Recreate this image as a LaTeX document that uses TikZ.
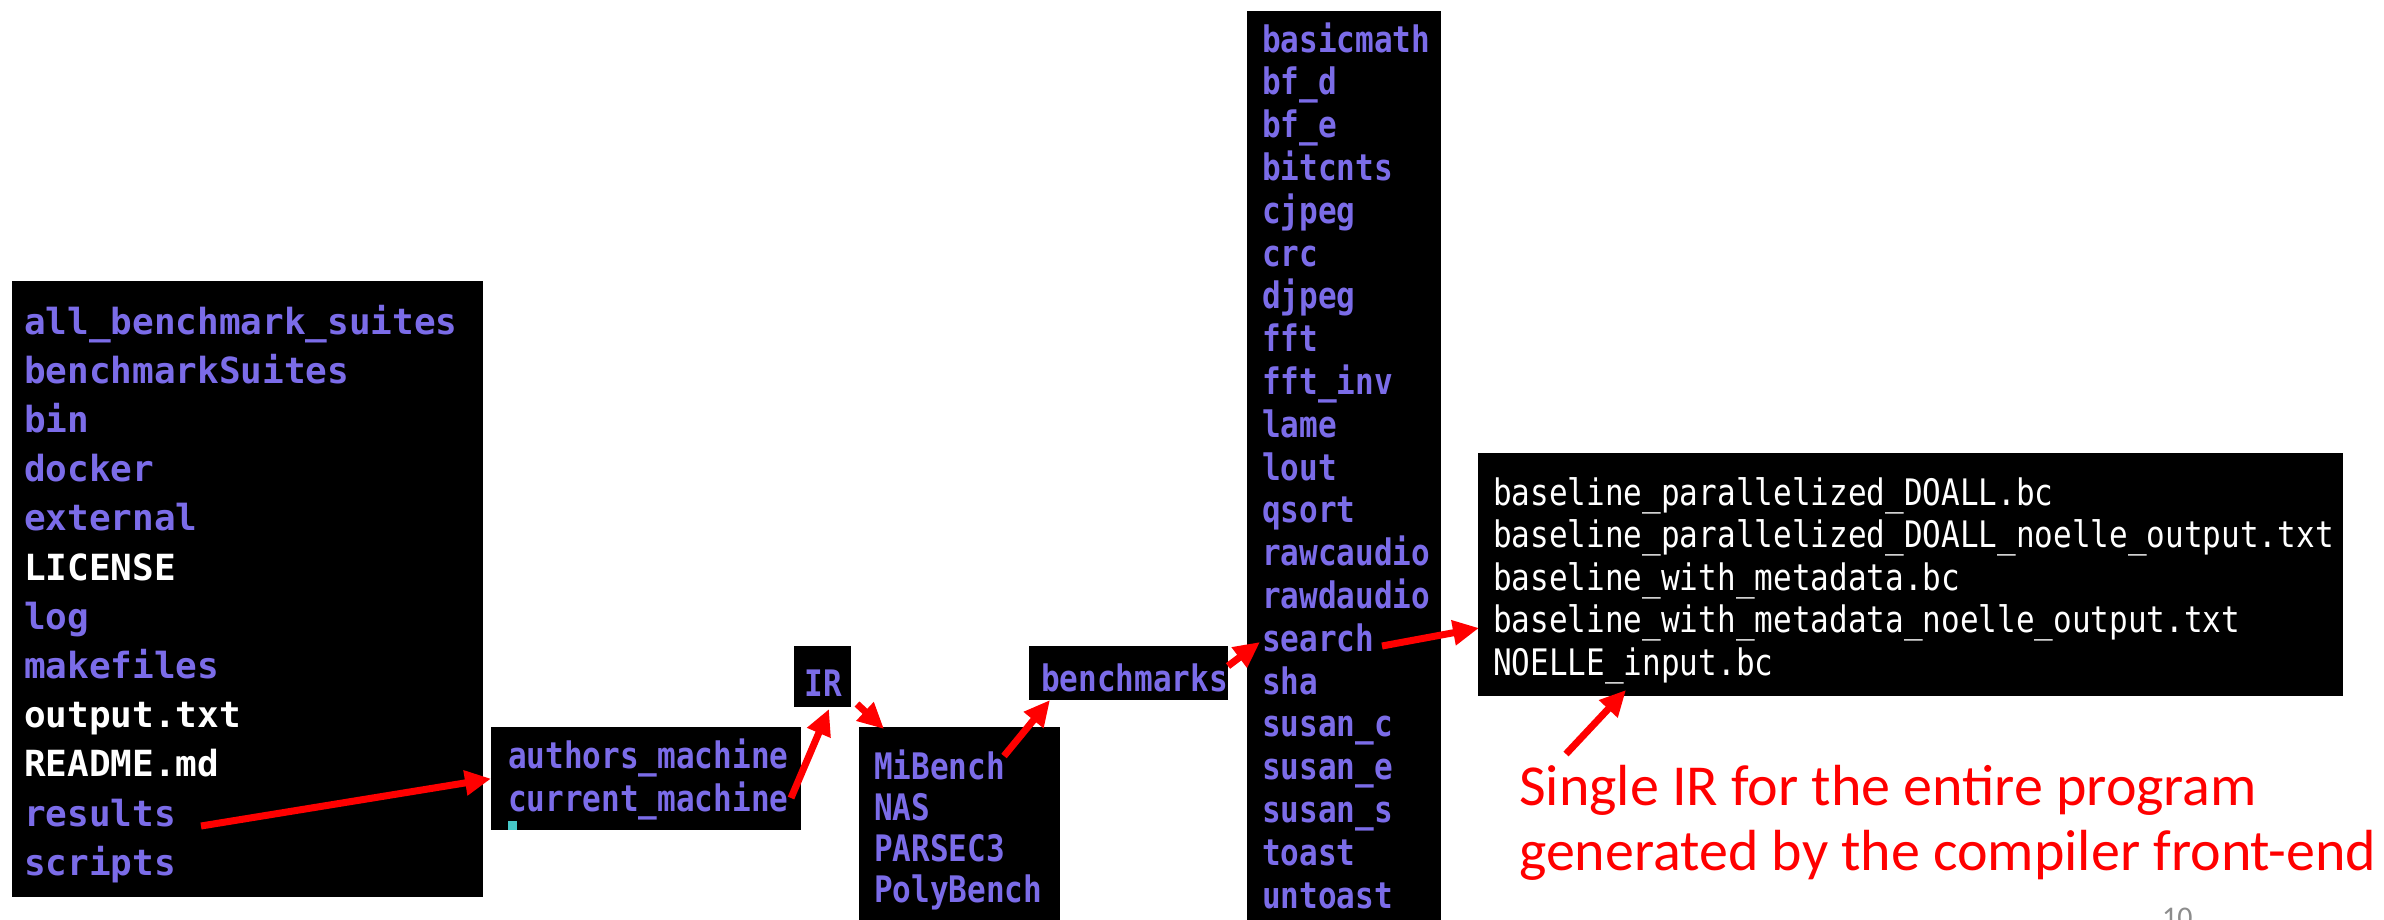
\documentclass[tikz,border=0pt]{standalone}
\usepackage{fontspec}
\setmainfont{Carlito}
\newfontfamily\termfont{DejaVu Sans Mono}
\newfontfamily\condfont[FakeStretch=0.85]{DejaVu Sans Mono}
\usetikzlibrary{arrows.meta}
\definecolor{dirpurple}{RGB}{123,108,232}
\definecolor{slidered}{RGB}{255,0,0}
\definecolor{cursorcyan}{RGB}{70,200,200}
\definecolor{pagegray}{RGB}{140,140,140}
\begin{document}
\begin{tikzpicture}[x=1pt,y=-1pt,
  termbox/.style={fill=black,draw=none,inner sep=0,anchor=north west},
  bigdir/.style={anchor=base west,inner sep=0,font=\termfont\bfseries\fontsize{36}{40}\selectfont},
  smalldir/.style={anchor=base west,inner sep=0,text=dirpurple,font=\condfont\bfseries\fontsize{36.5}{40}\selectfont},
  boldsmall/.style={smalldir},
  filetext/.style={smalldir,text=white,font=\condfont\fontsize{36.5}{40}\selectfont},
  redarrow/.style={draw=slidered,line width=7pt,-{Triangle[length=26pt,width=24pt]}},
  note/.style={anchor=base west,inner sep=0,text=slidered,font=\fontsize{58}{64}\selectfont}
]
\useasboundingbox (0,0) rectangle (2384,919);
\clip (0,0) rectangle (2384,919);
% boxes
\node[termbox,minimum width=471,minimum height=616] (boxA) at (12,281) {};
\node[termbox,minimum width=310,minimum height=103] (boxB) at (491,727) {};
\node[termbox,minimum width=57,minimum height=61] (boxC) at (794,646) {};
\node[termbox,minimum width=201,minimum height=230] (boxD) at (859,727) {};
\node[termbox,minimum width=199,minimum height=54] (boxE) at (1029,646) {};
\node[termbox,minimum width=194,minimum height=930] (boxF) at (1247,11) {};
\node[termbox,minimum width=865,minimum height=243] (boxG) at (1478,453) {};
% box A
\foreach \t/\c [count=\i from 0] in {all\_benchmark\_suites/dirpurple,benchmarkSuites/dirpurple,bin/dirpurple,docker/dirpurple,external/dirpurple,LICENSE/white,log/dirpurple,makefiles/dirpurple,output.txt/white,README.md/white,results/dirpurple,scripts/dirpurple}
  \node[bigdir,text=\c] (A\i) at (24,{334+49.2*\i}) {\t};
% box B
\node[smalldir] (B0) at (508,768) {authors\_machine};
\node[smalldir] (B1) at (508,811) {current\_machine};
\fill[cursorcyan] (508,821) rectangle (517,830);
% IR
\node[smalldir,anchor=base] (C0) at (823,696) {IR};
% box D
\foreach \t [count=\i from 0] in {MiBench,NAS,PARSEC3,PolyBench}
  \node[smalldir] (D\i) at (874,{779+41.3*\i}) {\t};
% box E
\node[smalldir] (E0) at (1041,691) {benchmarks};
% box F
\foreach \t [count=\i from 0] in {basicmath,bf\_d,bf\_e,bitcnts,cjpeg,crc,djpeg,fft,fft\_inv,lame,lout,qsort,rawcaudio,rawdaudio,search,sha,susan\_c,susan\_e,susan\_s,toast,untoast}
  \node[boldsmall] (F\i) at (1262,{52+42.8*\i}) {\t};
% box G
\foreach \t [count=\i from 0] in {baseline\_parallelized\_DOALL.bc,baseline\_parallelized\_DOALL\_noelle\_output.txt,baseline\_with\_metadata.bc,baseline\_with\_metadata\_noelle\_output.txt,NOELLE\_input.bc}
  \node[filetext] (G\i) at (1493,{505+42.5*\i}) {\t};
% red note
\node[note] (N0) at (1519,805) {Single IR for the entire program};
\node[note] (N1) at (1519,870) {generated by the compiler front-end};
% page number
\node[anchor=base west,inner sep=0,text=pagegray,font=\fontsize{30}{30}\selectfont] (pg) at (2162,927) {10};
% arrow end points
\coordinate (a1s) at (201,826);
\coordinate (a2s) at (791,798);
\coordinate (a2e) at (829,709);
\coordinate (a3s) at (857,704);
\coordinate (a3e) at (884,729);
\coordinate (a4s) at (1004,756);
\coordinate (a4e) at (1050,700);
\coordinate (a5s) at (1228,666);
\coordinate (a5e) at (1260,642);
\coordinate (a6s) at (1382,646);
\coordinate (a6e) at (1479,628);
\coordinate (a7s) at (1566,754);
\coordinate (a7e) at (1626,690);
\draw[redarrow] (a1s) -- (boxB.west);
\draw[redarrow] (a2s) -- (a2e);
\draw[redarrow] (a3s) -- (a3e);
\draw[redarrow] (a4s) -- (a4e);
\draw[redarrow] (a5s) -- (a5e);
\draw[redarrow] (a6s) -- (a6e);
\draw[redarrow] (a7s) -- (a7e);
\end{tikzpicture}
\end{document}
